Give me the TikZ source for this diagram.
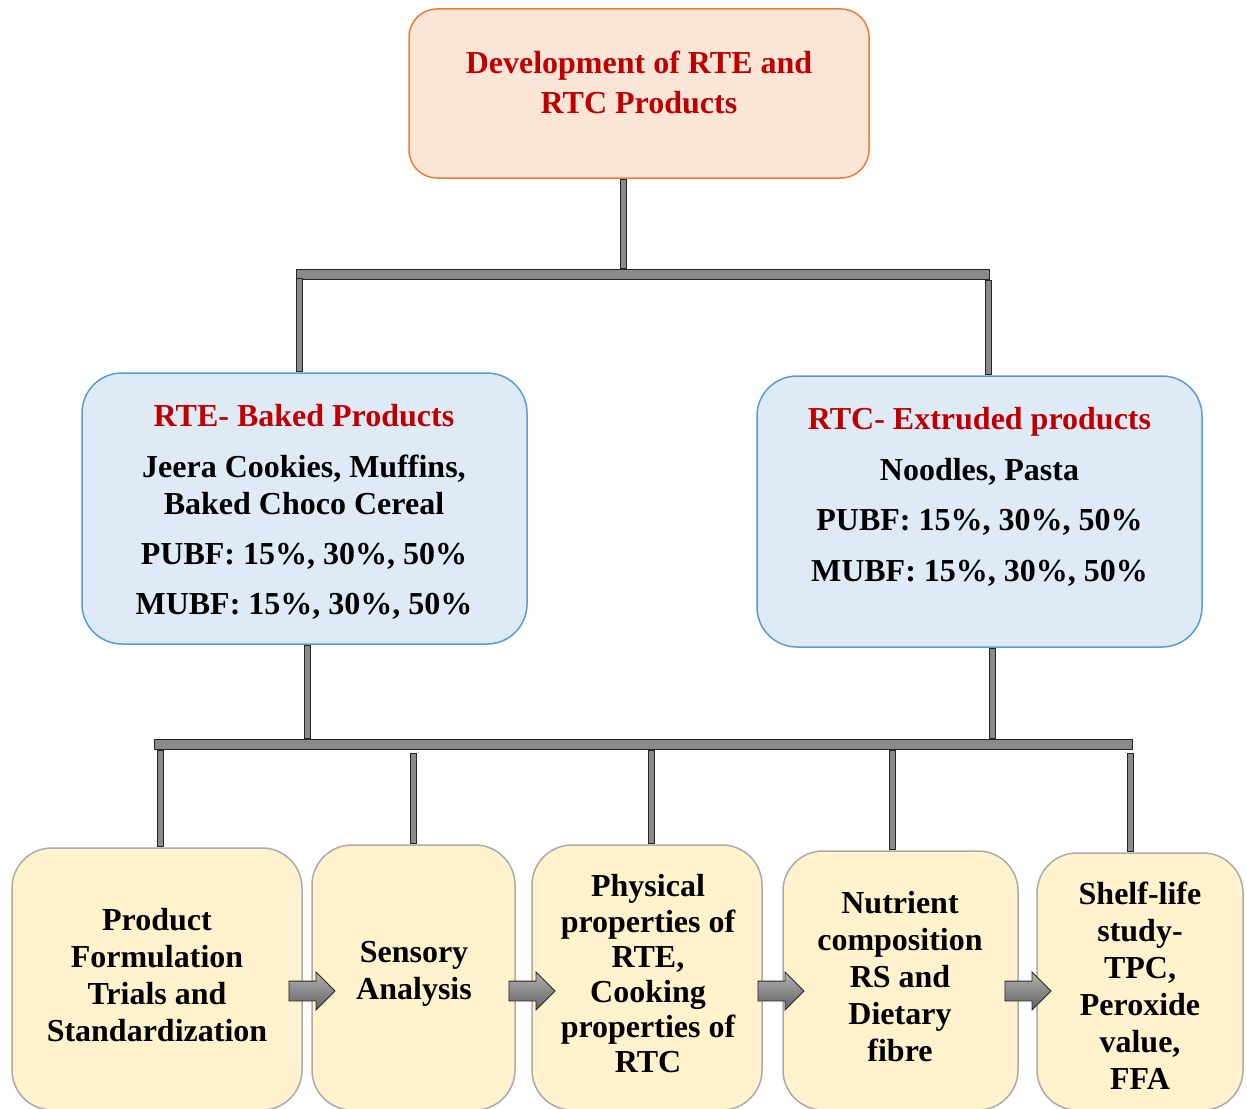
\documentclass[tikz,border=0pt]{standalone}
\usepackage{fontspec}
\setmainfont{Liberation Serif}
\usetikzlibrary{shapes.arrows,calc}
\definecolor{peach}{HTML}{FBE5D6}
\definecolor{peachline}{HTML}{ED7D31}
\definecolor{bluefill}{HTML}{DEEBF7}
\definecolor{blueline}{HTML}{5B9BD5}
\definecolor{yelfill}{HTML}{FFF2CC}
\definecolor{yelline}{HTML}{ABABAB}
\definecolor{darkred}{HTML}{C00000}
\definecolor{barfill}{HTML}{8A8A8A}
\definecolor{barline}{HTML}{262626}
\begin{document}
\begin{tikzpicture}[x=1pt,y=-1pt,
  box/.style={rectangle, line width=1.5pt, inner sep=0pt},
  topbox/.style={box, draw=peachline, fill=peach, rounded corners=28pt},
  midbox/.style={box, draw=blueline, fill=bluefill, rounded corners=40pt, minimum width=445pt, minimum height=271pt},
  lowbox/.style={box, draw=yelline, fill=yelfill, rounded corners=40pt},
  txt/.style={font=\fontsize{32}{37}\selectfont\bfseries, align=center, inner sep=0pt},
  bar/.style={draw=barline, line width=1pt, double=barfill, line cap=rect},
  vbar/.style={bar, double distance=5pt, shorten <=3.5pt, shorten >=3.5pt},
  hbar/.style={bar, double distance=9pt, shorten <=5.5pt, shorten >=5.5pt},
  blockarrow/.style={single arrow, draw=barline, line width=0.8pt, top color=black!30, bottom color=black!62,
    minimum height=46pt, minimum width=37pt, single arrow head extend=9pt,
    inner xsep=0pt, inner ysep=9.5pt}]
\path[use as bounding box] (0,0) rectangle (1247,1108);
\clip (0,0) rectangle (1247,1108);

% boxes
\node[topbox, minimum width=460pt, minimum height=169pt] (top) at (639,93.5) {};
\node[midbox] (rte) at (304.5,508.5) {};
\node[midbox] (rtc) at (979.5,511.5) {};
\node[lowbox, minimum width=290pt, minimum height=262pt] (b1) at (157,979) {};
\node[lowbox, minimum width=203pt, minimum height=265pt] (b2) at (413.5,977.5) {};
\node[lowbox, minimum width=230pt, minimum height=265pt] (b3) at (647,977.5) {};
\node[lowbox, minimum width=235pt, minimum height=259pt] (b4) at (900.5,980.5) {};
\node[lowbox, minimum width=206pt, minimum height=257pt] (b5) at (1140,981.5) {};

% texts
\node[txt, text=darkred, font=\fontsize{32}{40}\selectfont\bfseries] (t0) at (639,82)
  {Development of RTE and\\RTC Products};
\node[txt] (tL) at (304,511.5)
  {\textcolor{darkred}{RTE- Baked Products}\\[14pt]
   Jeera Cookies, Muffins,\\ Baked Choco Cereal\\[13pt]
   PUBF: 15\%, 30\%, 50\%\\[13pt] MUBF: 15\%, 30\%, 50\%};
\node[txt] (tR) at (979.5,497)
  {\textcolor{darkred}{RTC- Extruded products}\\[13.5pt]
   Noodles, Pasta\\[13.5pt]
   PUBF: 15\%, 30\%, 50\%\\[13.5pt] MUBF: 15\%, 30\%, 50\%};
\node[txt] (tb1) at (157,975) {Product\\Formulation\\Trials and\\Standardization};
\node[txt] (tb2) at (414,973.5) {Sensory\\Analysis};
\node[txt, font=\fontsize{32}{35.2}\selectfont\bfseries] (tb3) at (648,974)
  {Physical\\properties of\\RTE,\\Cooking\\properties of\\RTC};
\node[txt] (tb4) at (900,976.5) {Nutrient\\composition\\RS and\\Dietary\\fibre};
\node[txt] (tb5) at (1140,985.5) {Shelf-life\\study-\\TPC,\\Peroxide\\value,\\FFA};

% connector junctions
\coordinate (h1top) at (623.5,269);
\coordinate (h1L) at (296,274.5);
\coordinate (h1R) at (990,274.5);
\coordinate (h1a) at (299.5,278);
\coordinate (h1b) at (988.5,280);
\coordinate (h2a) at (307.5,739);
\coordinate (h2b) at (992.5,739);
\coordinate (h2L) at (154,744.5);
\coordinate (h2R) at (1133,744.5);
\coordinate (d1) at (160.5,750);
\coordinate (d2) at (413.5,753);
\coordinate (d3) at (651.5,750);
\coordinate (d4) at (892.5,750);
\coordinate (d5) at (1130.5,753);

% connectors
\draw[vbar] (top.south -| h1top) -- (h1top);
\draw[hbar] (h1L) -- (h1R);
\draw[vbar] (h1a) -- (h1a |- rte.north);
\draw[vbar] (h1b) -- (h1b |- rtc.north);
\draw[vbar] (rte.south -| h2a) -- (h2a);
\draw[vbar] (rtc.south -| h2b) -- (h2b);
\draw[hbar] (h2L) -- (h2R);
\draw[vbar] (d1) -- (d1 |- b1.north);
\draw[vbar] (d2) -- (d2 |- b2.north);
\draw[vbar] (d3) -- (d3 |- b3.north);
\draw[vbar] (d4) -- (d4 |- b4.north);
\draw[vbar] (d5) -- (d5 |- b5.north);

% block arrows between steps
\node[blockarrow] (a12) at (307,991) {};
\node[blockarrow] (a23) at (527,991) {};
\node[blockarrow] (a34) at (776,991) {};
\node[blockarrow] (a45) at (1023,991) {};
\end{tikzpicture}
\end{document}
